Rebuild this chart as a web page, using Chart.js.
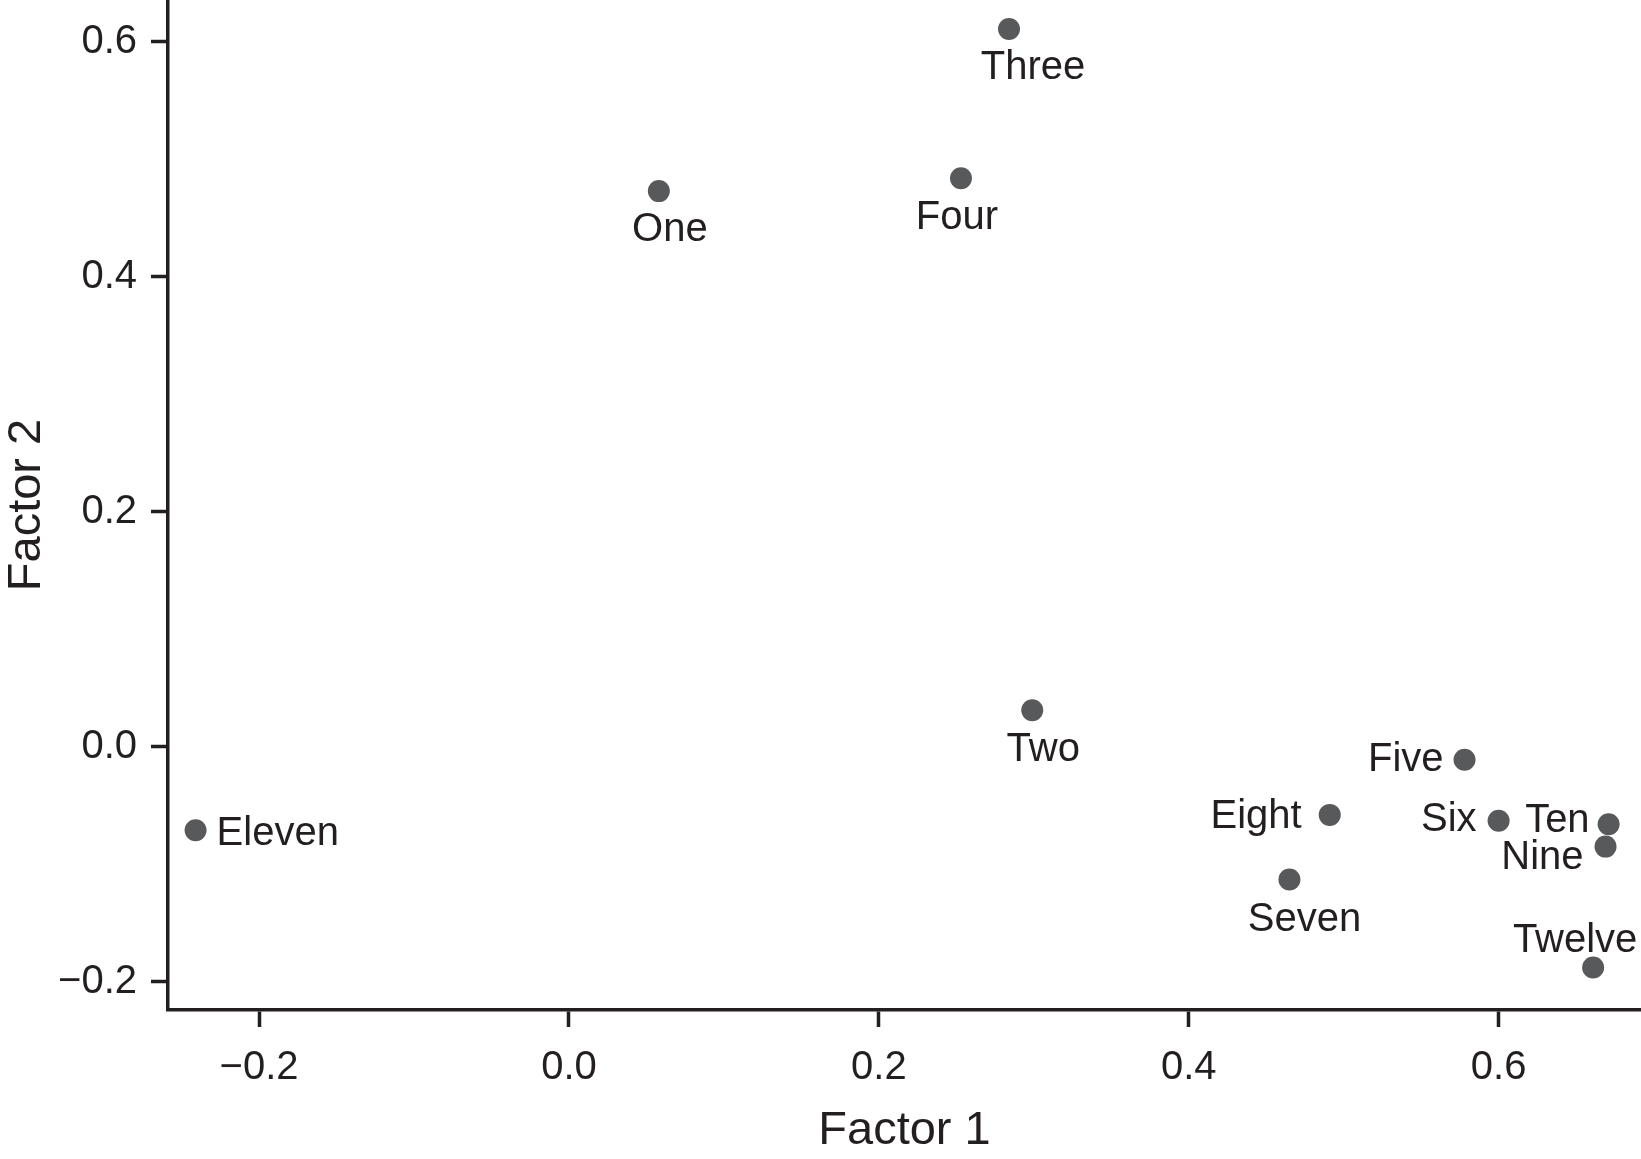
<!DOCTYPE html>
<html>
<head>
<meta charset="utf-8">
<script src="https://cdn.jsdelivr.net/npm/chart.js@4"></script>
<style>
  body { margin: 0; background: #fff; }
  #wrap { width: 1641px; height: 1159px; }
</style>
</head>
<body>
<div id="wrap"><canvas id="myChart"></canvas></div>
<script>
// item loadings
const names   = ['One', 'Two', 'Three', 'Four', 'Five', 'Six', 'Seven', 'Eight', 'Nine', 'Ten', 'Eleven', 'Twelve'];
const factor1 = [0.058, 0.299, 0.284, 0.253, 0.578, 0.600, 0.465, 0.491, 0.669, 0.671, -0.241, 0.661];
const factor2 = [0.473, 0.031, 0.611, 0.484, -0.011, -0.063, -0.113, -0.058, -0.085, -0.066, -0.071, -0.188];

const xTicks = [-0.2, 0.0, 0.2, 0.4, 0.6];
const yTicks = [-0.2, 0.0, 0.2, 0.4, 0.6];

// where each name sits relative to its dot (pixels)
const labelAlign = ['center', 'center', 'center', 'center', 'right', 'right', 'center', 'right', 'right', 'right', 'left', 'center'];
const labelDx    = [11, 11, 24, -4, -21, -22, 15, -28, -22, -19, 21, -18];
const labelDy    = [39, 40, 39, 40, 0, -1, 40, 2, 11, -3, 4, -27];

const ink = '#231f20';
const dotColor = '#58595b';
const family = '"Liberation Sans", Arial, Helvetica, sans-serif';

const fmt = v => (v < 0 ? '\u2212' : '') + Math.abs(v).toFixed(1);

const pointNames = {
    id: 'pointNames',
    afterDatasetsDraw(chart) {
        const ctx = chart.ctx;
        const meta = chart.getDatasetMeta(0);
        ctx.save();
        ctx.font = '40px ' + family;
        ctx.fillStyle = ink;
        ctx.textBaseline = 'middle';
        meta.data.forEach((pt, i) => {
            ctx.textAlign = labelAlign[i];
            ctx.fillText(names[i], pt.x + labelDx[i], pt.y + labelDy[i]);
        });
        ctx.restore();
    }
};

function axisStyle(ticks, title) {
    return {
        type: 'linear',
        afterBuildTicks: s => { s.ticks = ticks.map(v => ({ value: v })); },
        border: { display: true, color: ink, width: 3.5 },
        grid: {
            display: true,
            drawOnChartArea: false,
            drawTicks: true,
            tickLength: 17,
            tickWidth: 3.5,
            tickColor: ink,
            color: ink
        },
        ticks: {
            color: ink,
            font: { family: family, size: 40 },
            padding: 14,
            callback: v => fmt(v)
        },
        title: {
            display: true,
            text: title,
            color: ink,
            font: { family: family, size: 47, lineHeight: 1 },
            padding: { top: 4, bottom: 4 }
        }
    };
}

const xAxis = axisStyle(xTicks, 'Factor 1');
xAxis.min = -0.2588;
xAxis.max = 0.6919;
xAxis.ticks.maxRotation = 0;
xAxis.ticks.padding = 17;
xAxis.afterFit = s => {
    s.height = 149;
    s.paddingLeft = 0;
    s.paddingRight = 0;
};

const yAxis = axisStyle(yTicks, 'Factor 2');
yAxis.min = -0.2241;
yAxis.max = 0.6357;
yAxis.afterFit = s => {
    s.width = 168;
    s.paddingTop = 0;
    s.paddingBottom = 0;
};

const ctx = document.getElementById('myChart').getContext('2d');
const myChart = new Chart(ctx, {
    type: 'scatter',
    data: {
        datasets: [{
            data: factor1.map((x, i) => ({ x: x, y: factor2[i] })),
            backgroundColor: dotColor,
            borderWidth: 0,
            pointRadius: 11,
            pointHoverRadius: 11,
            clip: false
        }]
    },
    options: {
        responsive: true,
        maintainAspectRatio: false,
        animation: false,
        events: [],
        layout: { padding: 0, autoPadding: false },
        plugins: {
            legend: { display: false },
            tooltip: { enabled: false }
        },
        scales: { x: xAxis, y: yAxis }
    },
    plugins: [pointNames]
});
</script>
</body>
</html>
